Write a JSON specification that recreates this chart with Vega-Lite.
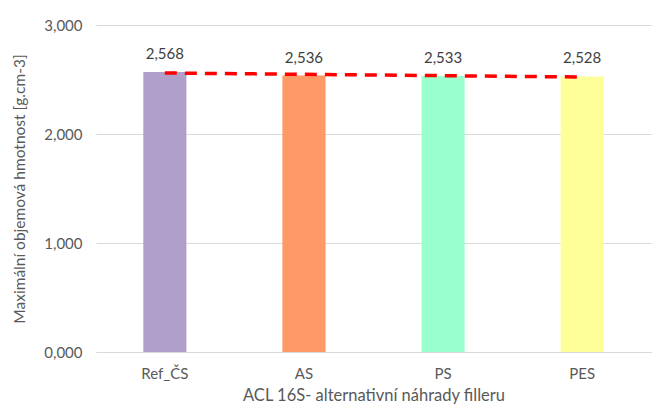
{
  "$schema": "https://vega.github.io/schema/vega-lite/v6.json",
  "width": 555,
  "height": 327,
  "autosize": {"type": "none"},
  "padding": {"left": 96, "top": 25, "right": 15, "bottom": 64},
  "background": "white",
  "config": {
    "locale": {"number": {"decimal": ",", "thousands": " ", "grouping": [3], "currency": ["", " Kč"]}},
    "font": "Lato",
    "view": {"stroke": null}
  },
  "data": {
    "values": [
      {"vzorek": "Ref_ČS", "hodnota": 2.568, "trend": 2.5597},
      {"vzorek": "AS", "hodnota": 2.536, "trend": 2.5474},
      {"vzorek": "PS", "hodnota": 2.533, "trend": 2.5351},
      {"vzorek": "PES", "hodnota": 2.528, "trend": 2.5228}
    ]
  },
  "encoding": {
    "x": {
      "field": "vzorek",
      "type": "nominal",
      "sort": null,
      "scale": {"paddingInner": 0.69, "paddingOuter": 0.34},
      "axis": {
        "title": "ACL 16S- alternativní náhrady filleru",
        "titleFontSize": 16.5,
        "titleFontWeight": "normal",
        "titleColor": "#595959",
        "titlePadding": 6,
        "labelAngle": 0,
        "labelFontSize": 15,
        "labelColor": "#595959",
        "labelPadding": 14,
        "ticks": false,
        "domainColor": "#d9d9d9",
        "domainWidth": 1
      }
    }
  },
  "layer": [
    {
      "mark": {"type": "bar"},
      "encoding": {
        "y": {
          "field": "hodnota",
          "type": "quantitative",
          "scale": {"domain": [0, 3]},
          "axis": {
            "title": "Maximální objemová hmotnost [g.cm-3]",
            "titleFontSize": 15.5,
            "titleFontWeight": "normal",
            "titleColor": "#595959",
            "titlePadding": 16,
            "values": [0, 1, 2, 3],
            "format": ".3f",
            "labelFontSize": 15,
            "labelColor": "#595959",
            "labelPadding": 14,
            "ticks": false,
            "domain": false,
            "gridColor": "#d9d9d9"
          }
        },
        "color": {
          "field": "vzorek",
          "type": "nominal",
          "sort": null,
          "scale": {"domain": ["Ref_ČS", "AS", "PS", "PES"], "range": ["#b09fca", "#ff9966", "#99ffcc", "#ffff99"]},
          "legend": null
        }
      }
    },
    {
      "mark": {"type": "text", "baseline": "middle", "dy": -18, "fontSize": 15, "color": "#404040"},
      "encoding": {
        "y": {"field": "hodnota", "type": "quantitative"},
        "text": {"field": "hodnota", "type": "quantitative", "format": ".3f"}
      }
    },
    {
      "mark": {"type": "line", "color": "#ff0000", "strokeWidth": 3.5, "strokeDash": [12, 8]},
      "encoding": {
        "y": {"field": "trend", "type": "quantitative"}
      }
    }
  ]
}
